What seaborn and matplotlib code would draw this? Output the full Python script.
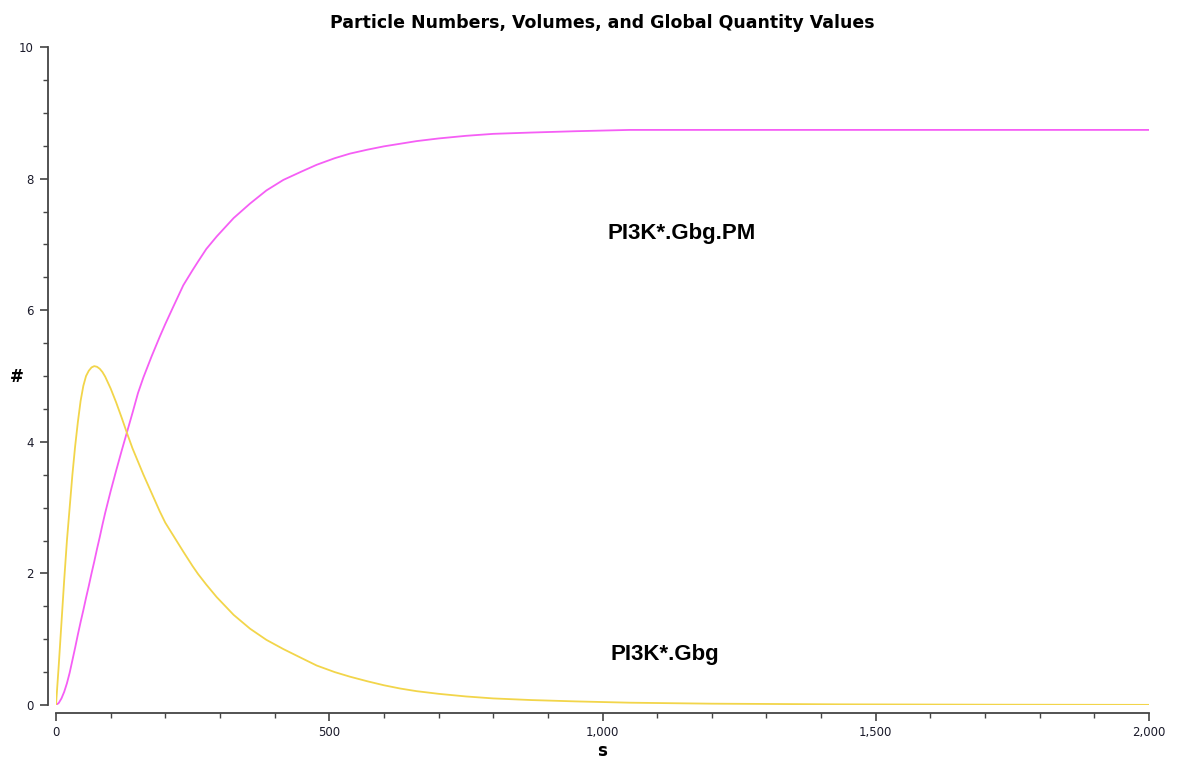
import numpy as np
import pandas as pd
import matplotlib
matplotlib.use("Agg")
import matplotlib.pyplot as plt
import seaborn as sns
from matplotlib.ticker import MultipleLocator, StrMethodFormatter

# -----------------------------------
# Data
# -----------------------------------

time_s = [0, 5, 10, 15, 20, 25, 30, 35, 40, 45, 50, 55, 60, 65, 70, 75,
          80, 85, 90, 100, 110, 120, 130, 140, 150, 160, 175, 190, 200,
          215, 233, 250, 260, 275, 294, 325, 355, 385, 416, 450, 477,
          510, 538, 570, 600, 630, 660, 700, 750, 800, 870, 950, 1050,
          1200, 1435, 1700, 2000]

gbg_pm = [0, 0.03, 0.1, 0.2, 0.33, 0.49, 0.68, 0.87, 1.07, 1.26, 1.44,
          1.63, 1.81, 2.0, 2.18, 2.37, 2.55, 2.74, 2.92, 3.25, 3.56,
          3.86, 4.15, 4.44, 4.74, 4.98, 5.30, 5.60, 5.79, 6.06, 6.38,
          6.61, 6.74, 6.93, 7.12, 7.4, 7.62, 7.82, 7.98, 8.11, 8.21,
          8.31, 8.38, 8.44, 8.49, 8.53, 8.57, 8.61, 8.65, 8.68, 8.7,
          8.72, 8.74, 8.74, 8.74, 8.74, 8.74]

gbg = [0, 0.6, 1.25, 1.9, 2.5, 3.0, 3.5, 3.93, 4.3, 4.62, 4.85, 5.0,
       5.08, 5.13, 5.15, 5.14, 5.11, 5.06, 4.99, 4.81, 4.6, 4.37, 4.13,
       3.9, 3.7, 3.5, 3.22, 2.94, 2.77, 2.57, 2.33, 2.11, 1.99, 1.83,
       1.64, 1.37, 1.16, 0.99, 0.85, 0.71, 0.6, 0.5, 0.43, 0.36, 0.3,
       0.25, 0.21, 0.17, 0.13, 0.1, 0.075, 0.055, 0.035, 0.02, 0.01,
       0.005, 0.002]

series_names = ["PI3K*.Gbg.PM", "PI3K*.Gbg"]
series_colors = ["#f55ef5", "#f2d54a"]

df = pd.DataFrame({"s": time_s, series_names[0]: gbg_pm, series_names[1]: gbg})

# -----------------------------------
# Plot
# -----------------------------------

sns.set_style("ticks")
plt.rcParams["font.family"] = ["DejaVu Sans"]
plt.rcParams["text.color"] = "black"
plt.rcParams["axes.labelcolor"] = "black"

fig = plt.figure(figsize=(11.8, 7.6), dpi=100)
ax = fig.add_axes([56 / 1180, 55 / 760, 1093 / 1180, 658 / 760])

for name, color in zip(series_names, series_colors):
    sns.lineplot(data=df, x="s", y=name, color=color, linewidth=1.3, ax=ax)

ax.set_xlim(0, 2000)
ax.set_ylim(0, 10)

ax.xaxis.set_major_locator(MultipleLocator(500))
ax.xaxis.set_minor_locator(MultipleLocator(100))
ax.yaxis.set_major_locator(MultipleLocator(2))
ax.yaxis.set_minor_locator(MultipleLocator(0.5))
ax.xaxis.set_major_formatter(StrMethodFormatter("{x:,.0f}"))

for side in ["top", "right"]:
    ax.spines[side].set_visible(False)
ax.spines["left"].set_position(("outward", 6))
ax.spines["bottom"].set_position(("outward", 6))
ax.spines["left"].set_bounds(0, 10)
ax.spines["bottom"].set_bounds(0, 2000)
for side in ["left", "bottom"]:
    ax.spines[side].set_color("#444444")
    ax.spines[side].set_linewidth(1.3)

ax.tick_params(which="major", length=6, width=1.2, color="#444444",
               labelsize=8.5, labelcolor="#1a1a2a")
ax.tick_params(which="minor", length=3.5, width=1.0, color="#444444")
ax.tick_params(axis="y", pad=4)
ax.tick_params(axis="x", pad=3)

ax.set_xlabel("s", fontsize=12, fontweight="bold", labelpad=2)
ax.set_ylabel("#", fontsize=12, fontweight="bold", rotation=0,
              va="center", ha="center")
ax.yaxis.set_label_coords(-0.036, 0.498)

ax.set_title("Particle Numbers, Volumes, and Global Quantity Values",
             fontsize=12.5, fontweight="bold", pad=14)

ax.text(1144, 7.08, series_names[0], ha="center", va="baseline",
        fontsize=16, fontweight="bold", family="Liberation Sans")
ax.text(1114, 0.68, series_names[1], ha="center", va="baseline",
        fontsize=16, fontweight="bold", family="Liberation Sans")

fig.savefig("out.png", dpi=100)
